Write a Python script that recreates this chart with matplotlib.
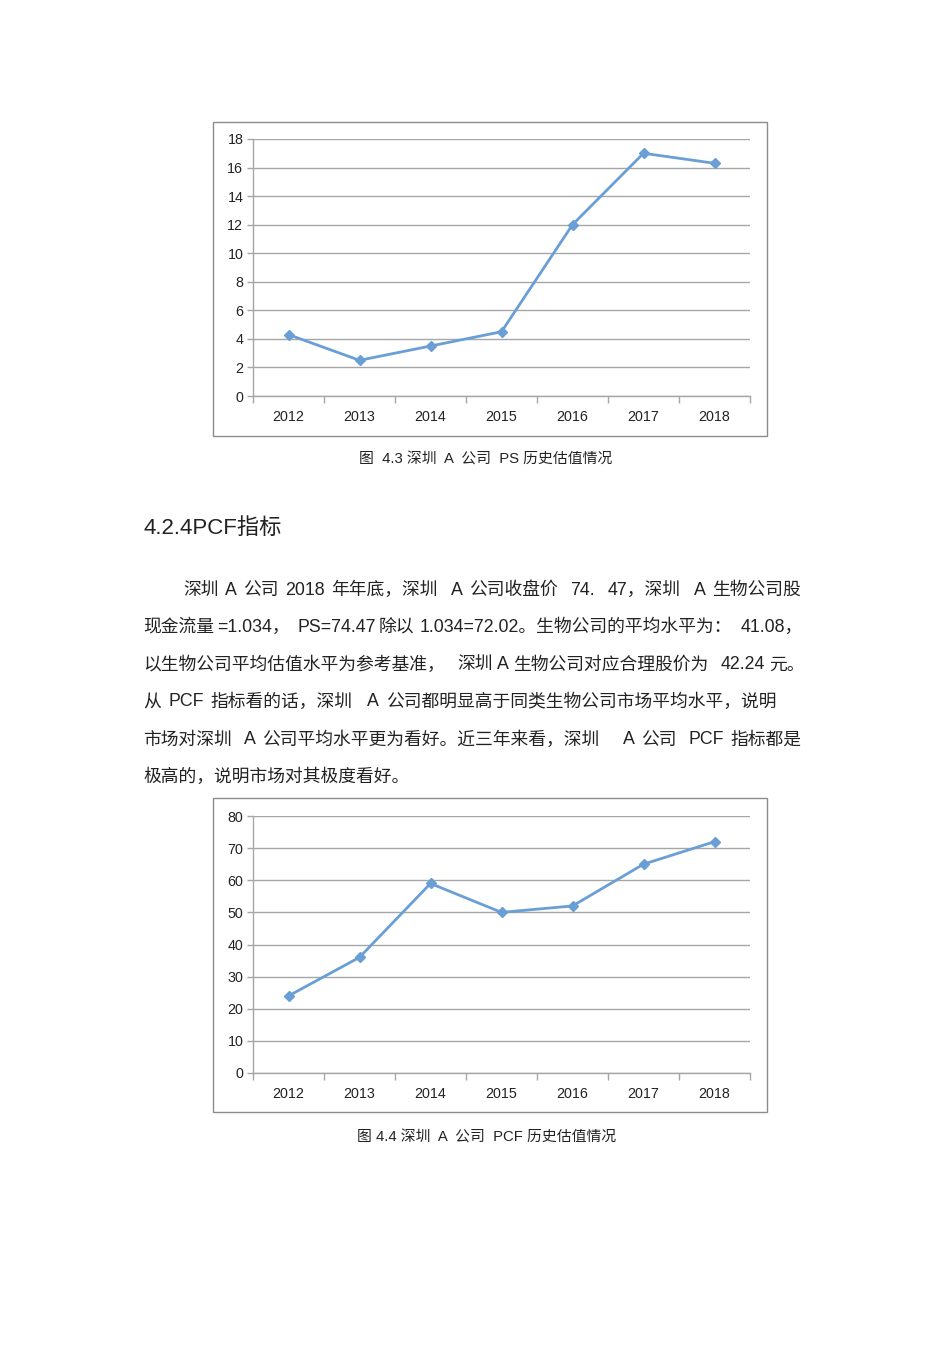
import matplotlib
matplotlib.use("Agg")
import matplotlib.pyplot as plt
from matplotlib.patches import Rectangle
import numpy as np

plt.rcParams['font.family'] = ['Liberation Sans', 'Noto Sans CJK SC', 'DejaVu Sans']

years = ['2012', '2013', '2014', '2015', '2016', '2017', '2018']
ps_values = [4.3, 2.5, 3.5, 4.5, 12.0, 17.0, 16.3]
pcf_values = [24, 36, 59, 50, 52, 65, 72]
ps_yticks = [0, 2, 4, 6, 8, 10, 12, 14, 16, 18]
pcf_yticks = [0, 10, 20, 30, 40, 50, 60, 70, 80]

caption1 = '图  4.3 深圳  A  公司  PS 历史估值情况'
caption2 = '图 4.4 深圳  A  公司  PCF 历史估值情况'
heading = '4.2.4PCF指标'
para_lines = [
    '深圳 A 公司 2018 年年底，深圳  A 公司收盘价  74.  47，深圳  A 生物公司股',
    '现金流量 =1.034，   PS=74.47 除以  1.034=72.02。生物公司的平均水平为：   41.08，',
    '以生物公司平均估值水平为参考基准，   深圳 A 生物公司对应合理股价为   42.24 元。',
    '从 PCF 指标看的话，深圳  A 公司都明显高于同类生物公司市场平均水平，说明',
    '市场对深圳  A 公司平均水平更为看好。近三年来看，深圳    A 公司  PCF 指标都是',
    '极高的，说明市场对其极度看好。',
]

W, H = 950, 1345
fig = plt.figure(figsize=(W / 100, H / 100), dpi=100)
fig.patch.set_facecolor('white')

LINE = '#6a9fd5'
GRID = '#a6a6a6'
TXT = '#222222'
FAM = ['Liberation Sans', 'Noto Sans CJK SC']


def px_text(x, y, s, **kw):
    return fig.text(x / W, 1 - y / H, s, **kw)


def chart(frame_top, frame_bot, ax_top, ax_bot, values, yticks):
    fig.add_artist(Rectangle((213 / W, 1 - frame_bot / H), (767 - 213) / W,
                             (frame_bot - frame_top) / H, transform=fig.transFigure,
                             fill=False, edgecolor='#8c8c8c', linewidth=1.0))
    ax = fig.add_axes([253 / W, 1 - ax_bot / H, (750 - 253) / W, (ax_bot - ax_top) / H])
    x = np.arange(len(years))
    ax.plot(x, values, color=LINE, linewidth=2.0, marker='D', markersize=5,
            markerfacecolor=LINE, markeredgecolor=LINE, zorder=3)
    ax.set_xlim(-0.5, len(years) - 0.5)
    ax.set_ylim(yticks[0], yticks[-1])
    ax.set_yticks(yticks)
    ax.set_yticklabels([str(v) for v in yticks], fontsize=10.3, color=TXT)
    ax.set_xticks(x)
    ax.set_xticklabels(years, fontsize=10.3, color=TXT)
    ax.set_xticks(np.arange(-0.5, len(years), 1.0), minor=True)
    ax.tick_params(axis='x', which='major', length=0, pad=10)
    ax.tick_params(axis='x', which='minor', length=5, color=GRID, width=1)
    ax.tick_params(axis='y', length=4, color=GRID, width=1, pad=3)
    ax.grid(axis='y', color=GRID, linewidth=1.0)
    ax.set_axisbelow(True)
    for s in ['top', 'right']:
        ax.spines[s].set_visible(False)
    for s in ['left', 'bottom']:
        ax.spines[s].set_color(GRID)
        ax.spines[s].set_linewidth(1.0)
    return ax


chart(122, 436, 139, 396, ps_values, ps_yticks)
chart(798, 1112, 816, 1073, pcf_values, pcf_yticks)

px_text(486, 460, caption1, fontsize=10.7, ha='center', va='center', color=TXT, family=FAM)
px_text(487, 1138, caption2, fontsize=10.7, ha='center', va='center', color=TXT, family=FAM)
px_text(143, 528, heading, fontsize=16, ha='left', va='center', color=TXT, family=FAM)

renderer = fig.canvas.get_renderer()


def justified(line, x0, x1, y, justify=True, size=12.8):
    # split into segments; weight of each gap = number of spaces
    segs, gaps = [], []
    cur, n = '', 0
    for ch in line:
        if ch == ' ':
            n += 1
        else:
            if n and cur:
                segs.append(cur)
                gaps.append(n)
                cur = ''
            n = 0
            cur += ch
    segs.append(cur)
    objs = [px_text(x0, y, s, fontsize=size, ha='left', va='center', color=TXT, family=FAM)
            for s in segs]
    widths = [o.get_window_extent(renderer=renderer).width for o in objs]
    if justify and gaps:
        unit = ((x1 - x0) - sum(widths)) / sum(gaps)
    else:
        unit = 4.0
    x = x0
    for i, o in enumerate(objs):
        o.set_position((x / W, 1 - y / H))
        x += widths[i]
        if i < len(gaps):
            x += gaps[i] * unit


ys = [590, 627, 665, 702, 740, 777]
starts = [183, 143, 143, 143, 143, 143]
ends = [801, 803, 805, 777, 801, 402]
for i, (s, x0, x1, y) in enumerate(zip(para_lines, starts, ends, ys)):
    justified(s, x0, x1, y, justify=(i < len(para_lines) - 1))

fig.savefig('out.png', dpi=100, facecolor='white')
